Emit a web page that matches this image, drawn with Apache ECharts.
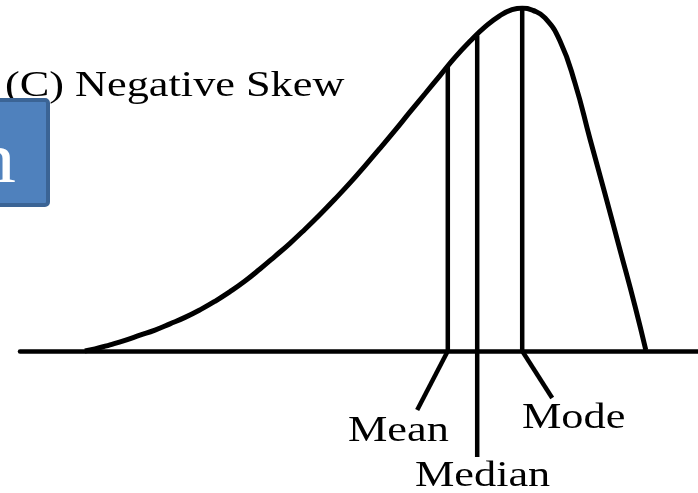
<!DOCTYPE html>
<html>
<head>
<meta charset="utf-8">
<script src="https://cdn.jsdelivr.net/npm/echarts@6/dist/echarts.min.js"></script>
<style>
  html, body { margin: 0; padding: 0; background: #fff; }
  #chart { width: 698px; height: 493px; }
</style>
</head>
<body>
<div id="chart"></div>
<script>
// negatively skewed curve (score, relative frequency 0-100)
const curveX = [10.8, 12.5, 15, 17.5, 20, 22.5, 25, 27.5, 30, 32.5, 35, 37.5, 40, 42.5, 45, 47.5, 50, 52.5, 55, 57.5,
  60, 62.5, 65, 67.5, 70, 72.5, 75, 77.5, 80, 82, 83.7, 85.5, 87.5, 90, 92.5, 95, 97.5, 100, 102.5, 104.3]
const curveY = [0, 0.6, 1.8, 3.1, 4.6, 6.1, 7.9, 9.8, 12.0, 14.5, 17.3, 20.4, 23.9, 27.6, 31.4, 35.5, 39.8, 44.3, 49.0, 54.0,
  59.1, 64.3, 69.7, 75.0, 80.3, 85.6, 90.3, 94.5, 97.8, 99.5, 100, 99.3, 97.1, 90.4, 78.1, 61.8, 45.8, 29.5, 13.1, 0.3]

// measures of central tendency
const measureNames = ['Mean', 'Median', 'Mode']
const measureX = [71.3, 76.2, 83.7]
const measureTop = [82.8, 92, 99.5]
const measureBottom = [0, -30.9, 0]
// leader lines from the baseline to the labels
const leaderEndX = [66.2, null, 88.7]
const leaderEndY = [-17.2, null, -13.7]

const chart = echarts.init(document.getElementById('chart'))

const FONT = '"Liberation Serif", "Times New Roman", serif'
const STROKE = '#000'

const series = [
  {
    type: 'line',
    data: curveX.map((x, i) => [x, curveY[i]]),
    smooth: 0.5,
    showSymbol: false,
    lineStyle: { color: STROKE, width: 5 },
    z: 3
  }
]

measureNames.forEach((name, i) => {
  series.push({
    name,
    type: 'line',
    data: [[measureX[i], measureBottom[i]], [measureX[i], measureTop[i]]],
    showSymbol: false,
    clip: false,
    lineStyle: { color: STROKE, width: 4.5 }
  })
  if (leaderEndX[i] !== null) {
    series.push({
      type: 'line',
      data: [[measureX[i], 0], [leaderEndX[i], leaderEndY[i]]],
      showSymbol: false,
      clip: false,
      lineStyle: { color: STROKE, width: 4.5 }
    })
  }
})

// label positions (left edge, text middle)
const labelPos = { Mean: [348, 432], Median: [415, 477], Mode: [522, 419] }

const textEl = (text, x, y, size, fill, align) => ({
  type: 'text',
  x, y,
  scaleX: 1.23,
  style: {
    text,
    fill: fill || '#000',
    font: size + 'px ' + FONT,
    align: align || 'left',
    verticalAlign: 'middle'
  },
  z: 10
})

const graphic = [
  textEl('(C) Negative Skew', 5, 87, 36),
  {
    type: 'rect',
    shape: { x: -10, y: 100, width: 58, height: 105, r: 3 },
    style: { fill: '#4f81bd', stroke: '#3b6495', lineWidth: 4 },
    z: 11
  },
  Object.assign(textEl('n', 16, 163, 72, '#fff', 'right'), { z: 12 })
]
measureNames.forEach(name => {
  graphic.push(textEl(name, labelPos[name][0], labelPos[name][1], 36))
})

chart.setOption({
  animation: false,
  grid: { left: 20, right: 0, top: 8, bottom: 0 },
  xAxis: {
    type: 'value',
    min: 0,
    max: 113,
    axisLine: { show: true, onZero: true, lineStyle: { color: STROKE, width: 4.5 } },
    axisTick: { show: false },
    axisLabel: { show: false },
    splitLine: { show: false }
  },
  yAxis: {
    type: 'value',
    min: -41.4,
    max: 100,
    show: false,
    splitLine: { show: false }
  },
  series,
  graphic
})
</script>
</body>
</html>
